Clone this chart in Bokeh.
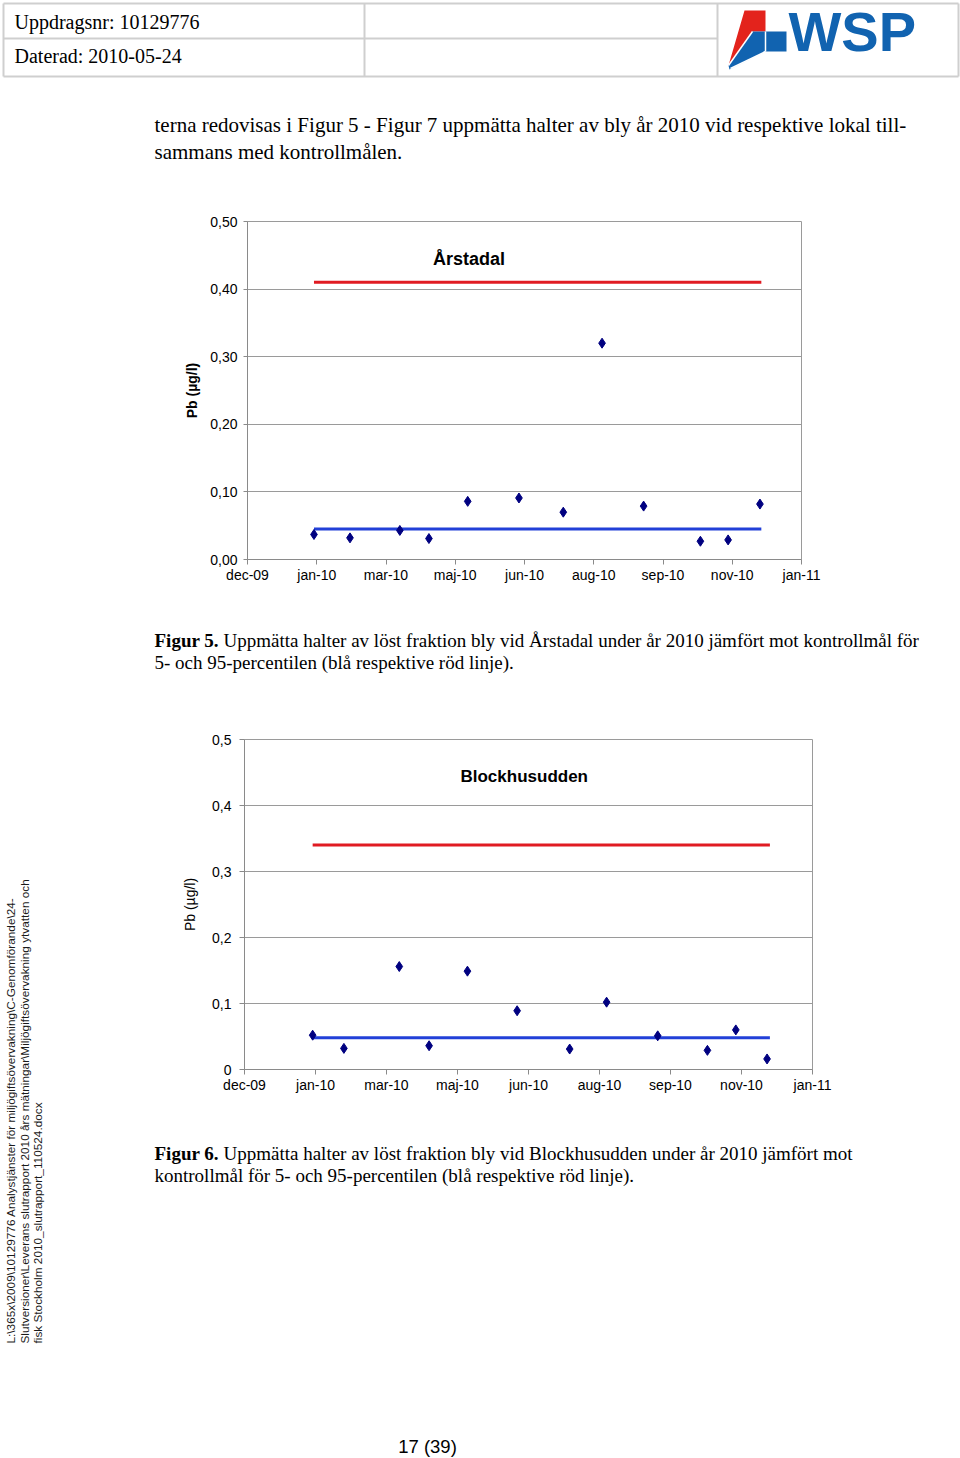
import pandas as pd
from bokeh.plotting import figure
from bokeh.layouts import column, row
from bokeh.models import Range1d, FixedTicker, CustomJSTickFormatter, Label
from bokeh.embed import file_html
from bokeh.resources import INLINE
from bokeh.core.properties import value
import math

SANS = "Liberation Sans"
SERIF = "Liberation Serif"

# ---------------- data ----------------
x_tick_dates = ["2009-12-03", "2010-01-22", "2010-03-13", "2010-05-02", "2010-06-21",
                "2010-08-10", "2010-09-29", "2010-11-18", "2011-01-07"]
x_tick_labels = ["dec-09", "jan-10", "mar-10", "maj-10", "jun-10",
                 "aug-10", "sep-10", "nov-10", "jan-11"]

y_ticks = [0.0, 0.1, 0.2, 0.3, 0.4, 0.5]

arstadal_dates = ["2010-01-20", "2010-02-15", "2010-03-23", "2010-04-13", "2010-05-11",
                  "2010-06-17", "2010-07-19", "2010-08-16", "2010-09-15", "2010-10-26",
                  "2010-11-15", "2010-12-08"]
arstadal_pb = [0.037, 0.032, 0.043, 0.031, 0.086, 0.091, 0.070, 0.320, 0.079, 0.027, 0.029, 0.082]
arstadal_limit_dates = ["2010-01-20", "2010-12-09"]
arstadal_p5 = [0.045, 0.045]
arstadal_p95 = [0.41, 0.41]
arstadal_y_labels = ["0,00", "0,10", "0,20", "0,30", "0,40", "0,50"]

blockhus_dates = ["2010-01-20", "2010-02-11", "2010-03-22", "2010-04-12", "2010-05-09",
                  "2010-06-13", "2010-07-20", "2010-08-15", "2010-09-20", "2010-10-25",
                  "2010-11-14", "2010-12-06"]
blockhus_pb = [0.052, 0.032, 0.156, 0.036, 0.149, 0.089, 0.031, 0.102, 0.051, 0.029, 0.060, 0.016]
blockhus_limit_dates = ["2010-01-20", "2010-12-08"]
blockhus_p5 = [0.048, 0.048]
blockhus_p95 = [0.34, 0.34]
blockhus_y_labels = ["0", "0,1", "0,2", "0,3", "0,4", "0,5"]


def serial(d):
    return (pd.Timestamp(d) - pd.Timestamp("1899-12-30")).days


JS_LABEL = ("const i = tvals.findIndex(t => Math.abs(t - tick) < 1e-6);"
            "return i >= 0 ? tlabels[i] : '';")


def page_fig(w, h, x0, y0):
    p = figure(width=w, height=h, x_range=Range1d(x0, x0 + w), y_range=Range1d(y0 + h, y0),
               output_backend="svg", toolbar_location=None, x_axis_type=None, y_axis_type=None,
               title_location=None, min_border=0)
    p.min_border_left = p.min_border_right = p.min_border_top = p.min_border_bottom = 0
    p.outline_line_color = None
    p.background_fill_color = "white"
    p.border_fill_color = "white"
    return p


def txt(p, x, y, s, size, font=SERIF, bold=False, align="left", angle=0.0, color="black",
        baseline="middle"):
    p.text(x=[x], y=[y], text=[s], text_font=value(font), text_font_size=size,
           text_font_style="bold" if bold else "normal", text_align=align,
           text_baseline=baseline, text_color=color, angle=angle)


def chart(title, title_x, dates, pb, ldates, p5, p95, ylabels, h, borders, label_bold,
          ytick_out, ylab_stand, yaxlab_stand, title_size):
    xt = [serial(d) for d in x_tick_dates]
    p = figure(width=910, height=h, x_range=Range1d(xt[0], xt[-1]), y_range=Range1d(0, 0.5),
               output_backend="svg", toolbar_location=None, title_location=None)
    p.min_border_left, p.min_border_right, p.min_border_top, p.min_border_bottom = borders
    p.background_fill_color = "white"
    p.border_fill_color = "white"
    p.outline_line_color = "#9a9a9a"
    p.outline_line_width = 1

    p.xaxis.ticker = FixedTicker(ticks=xt)
    p.xaxis.formatter = CustomJSTickFormatter(args=dict(tvals=xt, tlabels=x_tick_labels), code=JS_LABEL)
    p.yaxis.ticker = FixedTicker(ticks=y_ticks)
    p.yaxis.formatter = CustomJSTickFormatter(args=dict(tvals=y_ticks, tlabels=ylabels), code=JS_LABEL)
    for ax in (p.xaxis, p.yaxis):
        ax.axis_line_color = "#8a8a8a"
        ax.major_tick_line_color = "#8a8a8a"
        ax.minor_tick_line_color = None
        ax.major_tick_in = 0
        ax.major_label_text_font = SANS
        ax.major_label_text_font_size = "14px"
        ax.major_label_text_color = "black"
    p.xaxis.major_tick_out = 5
    p.xaxis.major_label_standoff = 2
    p.yaxis.major_tick_out = ytick_out
    p.yaxis.major_label_standoff = ylab_stand
    p.yaxis.axis_label = "Pb (µg/l)"
    p.yaxis.axis_label_text_font = SANS
    p.yaxis.axis_label_text_font_size = "14px"
    p.yaxis.axis_label_text_font_style = "bold" if label_bold else "normal"
    p.yaxis.axis_label_standoff = yaxlab_stand
    p.yaxis.axis_label_text_color = "black"
    p.xgrid.visible = False
    p.ygrid.grid_line_color = "#9a9a9a"
    p.ygrid.grid_line_width = 1

    lx = [serial(d) for d in ldates]
    p.line(lx, p95, line_color="#e01b22", line_width=3)
    p.line(lx, p5, line_color="#2240d8", line_width=3)
    p.scatter([serial(d) for d in dates], pb, marker="diamond", size=10,
              fill_color="#000080", line_color="#000080")

    p.add_layout(Label(x=title_x, y=0.444, text=title, text_align="center", text_baseline="middle",
                       text_font=SANS, text_font_size=title_size, text_font_style="bold",
                       text_color="black"))
    return p


# ---------------- top of page ----------------
top = page_fig(960, 200, 0, 0)
gray = "#cfcfcf"
top.segment(x0=[3, 3, 3, 958, 3, 364, 717], y0=[3, 76, 3, 3, 38, 3, 3],
            x1=[958, 958, 3, 958, 717, 364, 717], y1=[3, 76, 76, 76, 38, 76, 76],
            line_color=gray, line_width=2)
txt(top, 14, 21, "Uppdragsnr: 10129776", "20px")
txt(top, 14, 55, "Daterad: 2010-05-24", "20px")
# logo
top.patch([744, 765, 765, 752, 728], [10, 10, 31, 31, 65], fill_color="#e3231c", line_color=None)
top.patch([752, 786, 786, 765, 729, 728], [31, 31, 51, 51, 69, 65], fill_color="#1163b0", line_color=None)
top.segment(x0=[752, 765, 765], y0=[31, 51, 31], x1=[728, 730, 765], y1=[65, 68, 51],
            line_color="white", line_width=1.5)
txt(top, 788, 31, "WSP", "56px", font=SANS, bold=True, color="#1163b0")
# paragraph
txt(top, 154, 124, "terna redovisas i Figur 5 - Figur 7 uppmätta halter av bly år 2010 vid respektive lokal till-", "21px")
txt(top, 154, 151, "sammans med kontrollmålen.", "21px")

# ---------------- side text ----------------
side = page_fig(50, 1258, 0, 200)
side_lines = ["L:\\365x\\2009\\10129776 Analystjänster för miljögiftsövervakning\\C-Genomförande\\24-",
              "Slutversioner\\Leverans slutrapport 2010 års mätningar\\Miljögiftsövervakning ytvatten och",
              "fisk Stockholm 2010_slutrapport_110524.docx"]
for xx, s in zip([10, 24, 37.5], side_lines):
    txt(side, xx, 1343, s, "11.8px", font=SANS, angle=math.pi / 2, color="#1a1a1a")

# ---------------- charts ----------------
c1 = chart("Årstadal", 40310, arstadal_dates, arstadal_pb, arstadal_limit_dates, arstadal_p5,
           arstadal_p95, arstadal_y_labels, 405, (197, 159, 21, 46), True, 4, 6, 7, "18px")
mid = page_fig(910, 115, 50, 605)
txt(mid, 154, 640, "Figur 5.", "19px", bold=True)
txt(mid, 223, 640, "Uppmätta halter av löst fraktion bly vid Årstadal under år 2010 jämfört mot kontrollmål för", "19px")
txt(mid, 154, 662, "5- och 95-percentilen (blå respektive röd linje).", "19px")

c2 = chart("Blockhusudden", 40347, blockhus_dates, blockhus_pb, blockhus_limit_dates, blockhus_p5,
           blockhus_p95, blockhus_y_labels, 390, (194, 148, 19, 41), False, 5, 8, 11, "17px")
bot = page_fig(910, 348, 50, 1110)
txt(bot, 154, 1153, "Figur 6.", "19px", bold=True)
txt(bot, 223, 1153, "Uppmätta halter av löst fraktion bly vid Blockhusudden under år 2010 jämfört mot", "19px")
txt(bot, 154, 1175, "kontrollmål för 5- och 95-percentilen (blå respektive röd linje).", "19px")
txt(bot, 427, 1446, "17 (39)", "18.5px", font=SANS, align="center")

root = column(top, row(side, column(row(c1), row(mid), row(c2), row(bot))))

open("out.html", "w").write(file_html(root, INLINE))
